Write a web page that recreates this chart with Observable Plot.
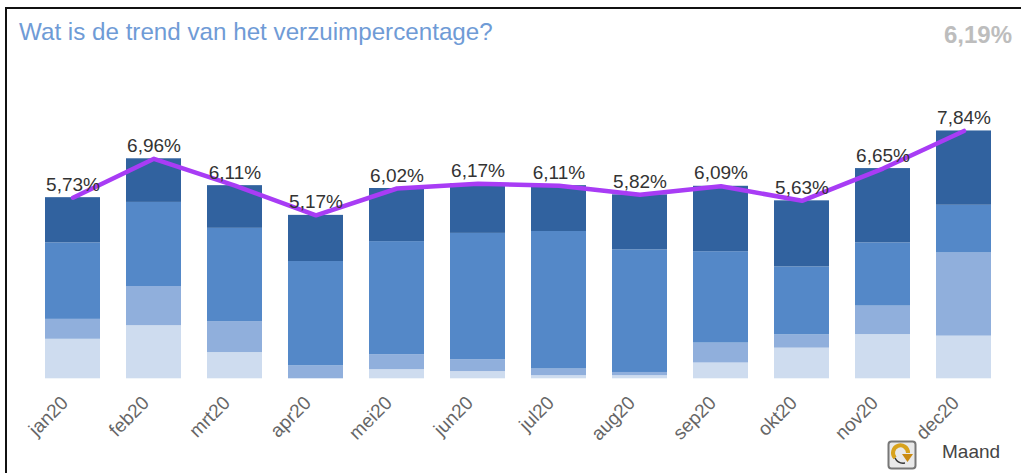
<!DOCTYPE html>
<html><head><meta charset="utf-8">
<script src="https://cdn.jsdelivr.net/npm/d3@7"></script>
<script src="https://cdn.jsdelivr.net/npm/@observablehq/plot@0.6"></script>
<style>
html,body{margin:0;padding:0;background:#fff;overflow:hidden}
#frame{position:absolute;left:5px;top:7px;width:1016px;height:466px;border-left:2px solid #111;border-top:2px solid #111;box-sizing:border-box}
#chart{position:absolute;left:0;top:0}
#title{position:absolute;left:19px;top:18px;font:24.2px "Liberation Sans",Arial,sans-serif;color:#6f9bd6}
#kpi{position:absolute;right:9px;top:21px;font:bold 24px "Liberation Sans",Arial,sans-serif;color:#bdbdbd}
#maand{position:absolute;left:942px;top:441px;font:19px "Liberation Sans",Arial,sans-serif;color:#444}
#icon{position:absolute;left:887px;top:440px}
</style></head><body>
<div id="frame"></div>
<div id="chart"></div>
<div id="title">Wat is de trend van het verzuimpercentage?</div>
<div id="kpi">6,19%</div>
<div id="maand">Maand</div>
<svg id="icon" width="30" height="30" viewBox="0 0 30 30">
  <rect x="1.5" y="1.5" width="27" height="27" rx="3" fill="#e9e9e9" stroke="#777" stroke-width="2"/>
  <path d="M8 18 A7.5 7.5 0 1 1 21 13" fill="none" stroke="#d8a21c" stroke-width="4"/>
  <path d="M15 14 L26 14 L20.5 22 Z" fill="#c98a12"/>
  <path d="M8 18 Q11 24 18 23" fill="none" stroke="#333" stroke-width="1.5"/>
</svg>
<script>
const months=["jan20","feb20","mrt20","apr20","mei20","jun20","jul20","aug20","sep20","okt20","nov20","dec20"];
const totals=[5.73,6.96,6.11,5.17,6.02,6.17,6.11,5.82,6.09,5.63,6.65,7.84];
const lightest=[1.25,1.68,0.83,0,0.29,0.23,0.10,0.10,0.50,0.97,1.40,1.35];
const light=[0.63,1.24,0.98,0.41,0.47,0.37,0.21,0.10,0.63,0.42,0.90,2.63];
const mid=[2.42,2.66,2.95,3.30,3.58,4.00,4.35,3.88,2.89,2.15,2.00,1.51];
const dark=[1.43,1.38,1.35,1.46,1.68,1.57,1.45,1.74,2.07,2.09,2.35,2.35];
const groups=["a","b","c","d"];
const colours=["#cedcef","#90afdc","#5488c8","#31629f"];
const series=[lightest,light,mid,dark];
const rows=groups.flatMap((g,i)=>months.map((m,j)=>({month:m,group:g,value:series[i][j]})));
const line=months.map((m,j)=>({month:m,value:totals[j]}));
const fmt=v=>v.toFixed(2).replace(".",",")+"%";
const plot=Plot.plot({
  width:1021,height:473,
  marginLeft:32,marginRight:17,marginTop:41,marginBottom:94.7,
  style:{background:"transparent",fontFamily:"Liberation Sans, Arial, sans-serif"},
  x:{domain:months,paddingInner:0.32,paddingOuter:0.16,label:null},
  y:{domain:[0,10.67],axis:null},
  color:{domain:groups,range:colours},
  marks:[
    Plot.axisX({tickSize:0,tickRotate:-45,tickPadding:21,dx:-8,fontSize:19,fill:"#666",label:null}),
    Plot.barY(rows,Plot.stackY({x:"month",y:"value",fill:"group",order:groups})),
    Plot.lineY(line,{x:"month",y:"value",stroke:"#a83cf5",strokeWidth:4.5}),
    Plot.text(line,{x:"month",y:"value",text:d=>fmt(d.value),dy:-13,fontSize:19,fill:"#333"})
  ]
});
document.getElementById("chart").append(plot);
</script>
</body></html>
